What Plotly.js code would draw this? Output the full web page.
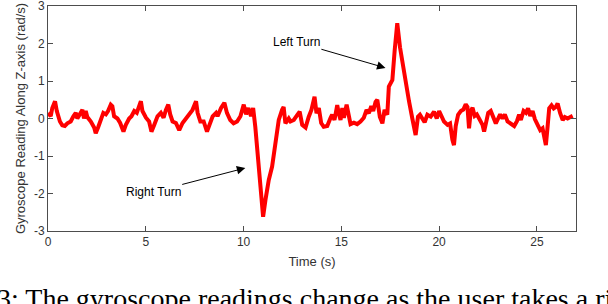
<!DOCTYPE html>
<html>
<head>
<meta charset="utf-8">
<script src="https://cdn.plot.ly/plotly-3.0.1.min.js"></script>
<style>html,body{margin:0;padding:0;background:#fff;}#chart{width:608px;height:304px;}</style>
</head>
<body>
<div id="chart"></div>
<script>
// Time in seconds
const timeS = [0.00,0.14,0.22,0.36,0.45,0.51,0.61,0.73,0.86,0.99,1.16,1.30,1.42,1.50,1.64,1.76,1.84,1.93,2.01,2.19,
2.36,2.44,2.56,2.70,2.83,2.96,3.07,3.21,3.29,3.38,3.55,3.69,3.86,3.98,4.15,4.27,4.41,4.54,4.66,4.75,
4.83,5.01,5.17,5.29,5.43,5.60,5.77,5.91,6.03,6.15,6.25,6.37,6.54,6.71,6.88,7.05,7.22,7.39,7.57,7.65,
7.79,7.96,8.13,8.25,8.42,8.59,8.67,8.85,9.02,9.15,9.32,9.49,9.67,9.84,10.01,10.13,10.25,10.38,10.49,10.60,
10.76,10.90,11.00,11.12,11.29,11.46,11.63,11.80,11.97,12.05,12.14,12.31,12.40,12.57,12.74,12.87,13.00,13.17,13.33,13.47,
13.63,13.73,13.85,13.97,14.10,14.28,14.45,14.53,14.65,14.79,14.87,14.96,15.05,15.13,15.27,15.38,15.47,15.64,15.81,15.98,
16.15,16.29,16.41,16.53,16.63,16.75,16.84,16.97,17.10,17.21,17.35,17.43,17.61,17.73,17.86,18.00,18.12,18.29,18.46,18.63,
18.80,18.92,19.02,19.14,19.26,19.40,19.57,19.74,19.88,20.00,20.12,20.25,20.43,20.56,20.68,20.76,20.85,20.97,21.11,21.24,
21.36,21.45,21.53,21.62,21.71,21.82,21.93,22.10,22.22,22.30,22.44,22.51,22.64,22.78,22.90,23.02,23.12,23.24,23.36,23.50,
23.67,23.84,23.98,24.09,24.18,24.32,24.44,24.55,24.66,24.78,24.90,25.04,25.17,25.29,25.37,25.46,25.54,25.63,25.75,25.86,
25.97,26.06,26.19,26.32,26.43,26.57,26.71,26.83];
// Gyroscope reading along Z-axis (rad/s)
const gyroZ = [0.15,0.06,0.28,0.46,0.20,0.06,-0.08,-0.18,-0.20,-0.13,-0.08,0.06,0.15,0.00,0.10,0.23,0.00,0.20,0.04,-0.08,
-0.24,-0.39,-0.24,0.00,0.15,0.11,0.20,0.37,0.33,0.06,0.00,-0.12,-0.35,-0.17,0.00,0.06,0.20,0.15,0.37,0.46,
0.20,0.02,-0.08,-0.35,-0.17,0.06,0.15,0.02,0.23,0.37,0.11,-0.08,-0.12,-0.31,-0.12,0.00,0.15,0.23,0.46,0.15,
-0.08,-0.08,-0.35,-0.17,0.06,0.15,0.06,0.28,0.42,0.15,-0.04,-0.13,-0.08,0.06,0.37,0.11,0.28,0.06,0.28,-0.22,
-1.10,-2.00,-2.62,-2.17,-1.64,-1.28,-0.57,-0.04,0.23,0.31,-0.13,0.00,-0.08,-0.04,0.09,0.18,-0.17,-0.24,0.04,0.23,
0.58,0.14,0.28,-0.12,-0.22,-0.20,0.02,0.10,-0.04,0.36,0.14,-0.04,0.28,0.02,0.37,0.02,-0.15,-0.11,-0.15,-0.08,
0.02,0.23,0.14,0.33,0.20,0.44,0.50,0.04,-0.13,0.23,0.10,0.85,1.03,1.83,2.54,1.90,1.50,1.00,0.46,0.00,
-0.44,0.05,0.10,0.00,-0.10,0.10,0.05,0.18,0.00,0.20,0.07,-0.08,-0.17,-0.13,-0.57,-0.71,-0.20,0.10,0.20,0.24,
0.38,0.31,-0.26,0.20,0.29,0.07,0.11,-0.04,-0.17,-0.35,0.00,0.15,0.20,0.00,-0.13,0.00,0.11,0.00,0.11,-0.08,
-0.13,-0.20,-0.07,0.10,-0.04,0.20,0.15,0.27,0.07,0.20,-0.02,-0.17,-0.31,-0.26,-0.48,-0.71,-0.26,0.27,0.35,0.27,
0.31,0.40,0.14,-0.04,0.04,0.00,0.04,0.07];
const xTicks = [0,5,10,15,20,25];
const yTicks = [-3,-2,-1,0,1,2,3];
const xTitle = 'Time (s)';
const yTitle = 'Gyroscope Reading Along Z-axis (rad/s)';
const captionText = '3: The gyroscope readings change as the user takes a ri';

const sans = 'Liberation Sans, Arial, sans-serif';
const axisCommon = {
  showline: true, mirror: 'ticks', linecolor: '#4d4d4d', linewidth: 1,
  ticks: 'inside', ticklen: 5, tickcolor: '#4d4d4d', tickwidth: 1,
  showgrid: false, zeroline: false, ticklabeloverflow: 'allow',
  tickfont: {family: sans, size: 12, color: '#333333'}
};

const trace = {
  x: timeS, y: gyroZ, type: 'scatter', mode: 'lines',
  line: {color: '#ff0000', width: 4}, hoverinfo: 'skip'
};

const layout = {
  width: 608, height: 304,
  margin: {l: 48, r: 32, t: 6, b: 73},
  paper_bgcolor: '#ffffff', plot_bgcolor: '#ffffff',
  showlegend: false,
  xaxis: Object.assign({}, axisCommon, {
    range: [0, 27], tickvals: xTicks, ticktext: xTicks.map(String),
    title: {text: xTitle, standoff: 8, font: {family: sans, size: 13, color: '#333333'}}
  }),
  yaxis: Object.assign({}, axisCommon, {
    range: [-3, 3], tickvals: yTicks, ticktext: yTicks.map(String),
    title: {text: yTitle, standoff: 5, font: {family: sans, size: 13, color: '#333333'}}
  }),
  annotations: [
    {x: 17.26, y: 1.35, xref: 'x', yref: 'y', ax: 12.70, ay: 2.04, axref: 'x', ayref: 'y',
     text: 'Left Turn', showarrow: true, arrowhead: 2, arrowsize: 1.7, arrowwidth: 1, arrowcolor: '#000',
     font: {family: sans, size: 12, color: '#000'}},
    {x: 10.09, y: -1.32, xref: 'x', yref: 'y', ax: 5.38, ay: -1.96, axref: 'x', ayref: 'y',
     text: 'Right Turn', showarrow: true, arrowhead: 2, arrowsize: 1.7, arrowwidth: 1, arrowcolor: '#000',
     font: {family: sans, size: 12, color: '#000'}},
    {x: -0.100, y: -0.298, xref: 'paper', yref: 'paper', xanchor: 'left', yanchor: 'middle',
     text: captionText, showarrow: false,
     font: {family: 'Liberation Serif, Times New Roman, serif', size: 28, color: '#000'}}
  ]
};

Plotly.newPlot('chart', [trace], layout, {staticPlot: true, displayModeBar: false});
</script>
</body>
</html>
